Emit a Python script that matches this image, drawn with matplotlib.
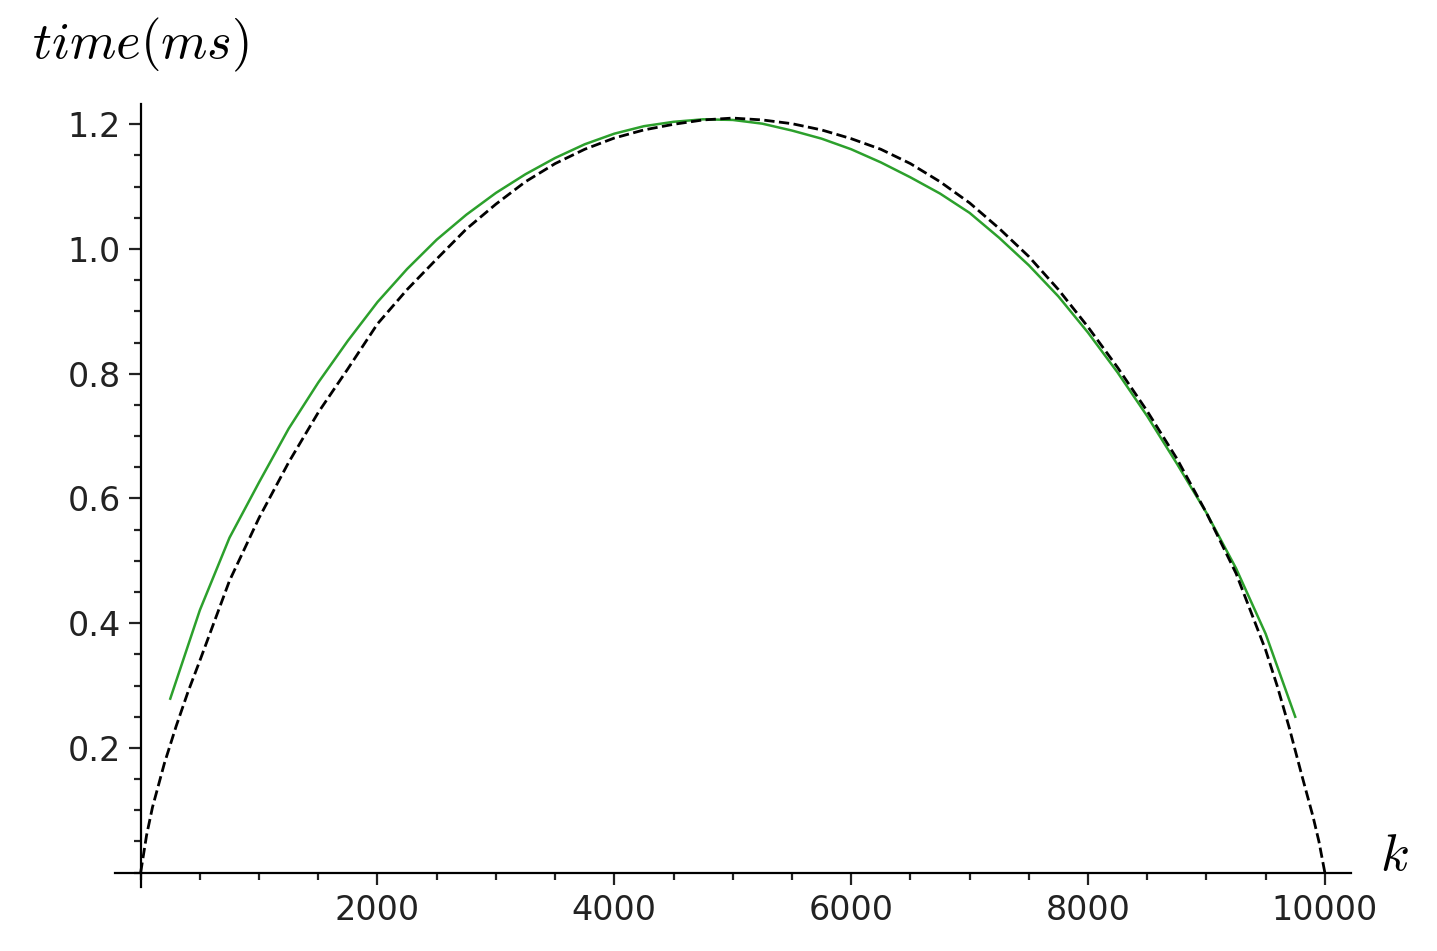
import numpy as np
from matplotlib import pyplot as plt
from matplotlib.ticker import FixedLocator, MultipleLocator

# measured run times (green) and fitted model (dashed)
k_measured = [250, 500, 750, 1000, 1250, 1500, 1750, 2000, 2250, 2500, 2750, 3000, 3250,
              3500, 3750, 4000, 4250, 4500, 4750, 5000, 5250, 5500, 5750, 6000, 6250,
              6500, 6750, 7000, 7250, 7500, 7750, 8000, 8250, 8500, 8750, 9000, 9250,
              9500, 9750]
time_measured = [0.279, 0.421, 0.537, 0.626, 0.712, 0.786, 0.853, 0.915, 0.968, 1.015,
                 1.055, 1.090, 1.120, 1.146, 1.168, 1.185, 1.197, 1.204, 1.208, 1.207,
                 1.201, 1.190, 1.177, 1.160, 1.139, 1.115, 1.089, 1.058, 1.018, 0.974,
                 0.924, 0.866, 0.802, 0.732, 0.656, 0.577, 0.488, 0.383, 0.250]

k_model = [0, 50, 100, 200, 300, 400, 500, 750, 1000, 1250, 1500, 1750, 2000, 2250,
           2500, 2750, 3000, 3250, 3500, 3750, 4000, 4250, 4500, 4750, 5000, 5250, 5500,
           5750, 6000, 6250, 6500, 6750, 7000, 7250, 7500, 7750, 8000, 8250, 8500, 8750,
           9000, 9250, 9500, 9600, 9700, 9800, 9900, 9950, 10000]
time_model = [0.0, 0.060, 0.105, 0.175, 0.235, 0.290, 0.340, 0.468, 0.569, 0.658, 0.738,
              0.808, 0.880, 0.935, 0.984, 1.032, 1.072, 1.108, 1.137, 1.160, 1.178, 1.191,
              1.200, 1.207, 1.210, 1.207, 1.201, 1.191, 1.177, 1.160, 1.137, 1.108, 1.074,
              1.033, 0.988, 0.935, 0.875, 0.810, 0.740, 0.664, 0.577, 0.480, 0.357, 0.298,
              0.232, 0.160, 0.090, 0.050, 0.0]

x_major = [2000, 4000, 6000, 8000, 10000]
y_major = [0.2, 0.4, 0.6, 0.8, 1.0, 1.2]

plt.rcParams['mathtext.fontset'] = 'cm'

fig = plt.figure(figsize=(7.185, 4.755), dpi=200)
ax = fig.add_axes([0.080, 0.0673, 0.860, 0.8233])

ax.plot(k_measured, time_measured, color='#2ca02c', linewidth=0.9)
ax.plot(k_model, time_model, color='black', linestyle='--', linewidth=1.0)

ax.set_xlim(-217, 10219)
ax.set_ylim(-0.023, 1.2325)

ax.spines['left'].set_position(('data', 0))
ax.spines['bottom'].set_position(('data', 0))
ax.spines['top'].set_visible(False)
ax.spines['right'].set_visible(False)
for s in ('left', 'bottom'):
    ax.spines[s].set_linewidth(0.8)

ax.xaxis.set_major_locator(FixedLocator(x_major))
ax.xaxis.set_minor_locator(MultipleLocator(500))
ax.yaxis.set_major_locator(FixedLocator(y_major))
ax.yaxis.set_minor_locator(MultipleLocator(0.05))
ax.set_xticklabels([str(v) for v in x_major])
ax.set_yticklabels(['%.1f' % v for v in y_major])

ax.tick_params(which='major', direction='out', length=4.2, width=0.8, labelsize=12,
               colors='#222222')
ax.tick_params(axis='y', which='major', pad=3.0)
ax.tick_params(which='minor', direction='out', length=2.5, width=0.8, colors='#222222')

fig.text(140 / 1437, 1 - 58 / 951, r'$time(ms)$', ha='center', va='baseline', fontsize=19)
fig.text(1380 / 1437, 1 - 870 / 951, r'$k$', ha='left', va='baseline', fontsize=19)

plt.savefig('out.png')
plt.close()
